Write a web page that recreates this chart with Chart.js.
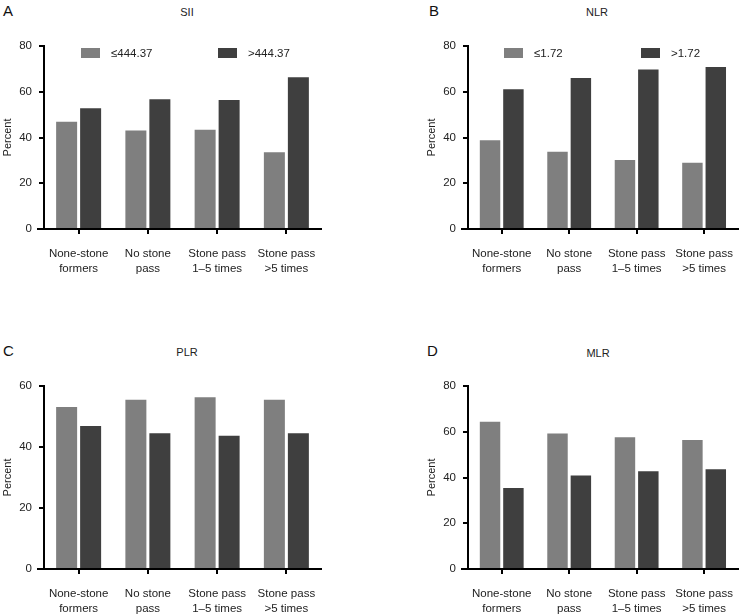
<!DOCTYPE html>
<html>
<head>
<meta charset="utf-8">
<script src="https://cdn.jsdelivr.net/npm/chart.js@4.4.1/dist/chart.umd.min.js"></script>
<style>
  html, body { margin: 0; padding: 0; background: #fff; }
  body { width: 745px; height: 614px; position: relative; overflow: hidden; font-family: "Liberation Sans", Arial, sans-serif; color: #222; }
  .panel { position: absolute; }
  .panel canvas { position: absolute; left: 0; top: 0; }
  .letter { position: absolute; font-size: 15px; line-height: 15px; color: #111; }
  .title { position: absolute; font-size: 11px; line-height: 12px; transform: translateX(-50%); color: #222; white-space: nowrap; }
  .leg { position: absolute; height: 12px; font-size: 11.5px; line-height: 12px; white-space: nowrap; color: #222; }
  .leg .box { position: absolute; left: 0; top: 1px; width: 19px; height: 10px; }
  .leg .txt { position: absolute; left: 30px; top: 0; }
</style>
</head>
<body>
<script>
// ---- data ----
const categories = [["None-stone", "formers"], ["No stone", "pass"], ["Stone pass", "1\u20135 times"], ["Stone pass", ">5 times"]];
const panelLetters = ["A", "B", "C", "D"];
const panelTitles = ["SII", "NLR", "PLR", "MLR"];
const lowLabels = ["\u2264444.37", "\u22641.72", "\u2264120.00", "\u22640.29"];
const highLabels = [">444.37", ">1.72", ">120.00", ">0.29"];
const siiLow = [46.9, 43.1, 43.4, 33.5];
const siiHigh = [52.8, 56.7, 56.4, 66.3];
const nlrLow = [38.8, 33.8, 30.2, 29.0];
const nlrHigh = [61.1, 66.0, 69.7, 70.8];
const plrLow = [53.1, 55.5, 56.3, 55.5];
const plrHigh = [46.9, 44.5, 43.7, 44.5];
const mlrLow = [64.4, 59.2, 57.6, 56.4];
const mlrHigh = [35.4, 40.9, 42.7, 43.6];
const yMax = [80, 80, 60, 80];
const yTickStep = 20;

const lowSeries = [siiLow, nlrLow, plrLow, mlrLow];
const highSeries = [siiHigh, nlrHigh, plrHigh, mlrHigh];

// ---- layout (positions / styles) ----
const LIGHT = "#7f7f7f";
const DARK = "#3f3f3f";
const panels = [
  { x: 0,   y: 0,   w: 372, h: 300, padL: 1,  yw: 43, padR: 51, top: 46, xh: 71, letter: [3, 3],   title: [187, 6],  leg: [81, 47, 218] },
  { x: 372, y: 0,   w: 373, h: 300, padL: 53, yw: 43, padR: 1,  top: 46, xh: 71, letter: [57, 3],  title: [225, 6],  leg: [132, 47, 269] },
  { x: 0,   y: 300, w: 372, h: 314, padL: 1,  yw: 43, padR: 51, top: 86, xh: 45, letter: [3, 43],  title: [187, 46], leg: [81, 376, 218] },
  { x: 372, y: 300, w: 373, h: 314, padL: 53, yw: 43, padR: 1,  top: 86, xh: 45, letter: [55, 43], title: [226, 47], leg: [134, 376, 272] }
];

const axisExtend = {
  id: 'axisExtend',
  afterDraw(chart) {
    const { ctx, chartArea } = chart;
    ctx.save();
    ctx.strokeStyle = '#000';
    ctx.lineWidth = 2;
    ctx.beginPath();
    ctx.moveTo(chartArea.left - 7, chartArea.bottom);
    ctx.lineTo(chartArea.left, chartArea.bottom);
    ctx.stroke();
    ctx.restore();
  }
};

panels.forEach((p, i) => {
  const div = document.createElement('div');
  div.className = 'panel';
  div.style.left = p.x + 'px';
  div.style.top = p.y + 'px';
  div.style.width = p.w + 'px';
  div.style.height = p.h + 'px';
  document.body.appendChild(div);

  const letter = document.createElement('div');
  letter.className = 'letter';
  letter.textContent = panelLetters[i];
  letter.style.left = p.letter[0] + 'px';
  letter.style.top = p.letter[1] + 'px';
  div.appendChild(letter);

  const title = document.createElement('div');
  title.className = 'title';
  title.textContent = panelTitles[i];
  title.style.left = p.title[0] + 'px';
  title.style.top = p.title[1] + 'px';
  div.appendChild(title);

  const canvas = document.createElement('canvas');
  canvas.width = p.w; canvas.height = p.h;
  canvas.style.width = p.w + 'px'; canvas.style.height = p.h + 'px';
  div.appendChild(canvas);

  [[lowLabels[i], LIGHT, p.leg[0]], [highLabels[i], DARK, p.leg[2]]].forEach(([txt, col, lx]) => {
    const lg = document.createElement('div');
    lg.className = 'leg';
    lg.style.left = lx + 'px';
    lg.style.top = p.leg[1] + 'px';
    lg.innerHTML = '<span class="box" style="background:' + col + '"></span><span class="txt"></span>';
    lg.querySelector('.txt').textContent = txt;
    div.appendChild(lg);
  });

  new Chart(canvas.getContext('2d'), {
    type: 'bar',
    data: {
      labels: categories,
      datasets: [
        { label: lowLabels[i], data: lowSeries[i], backgroundColor: LIGHT, borderWidth: 0, categoryPercentage: 0.693, barPercentage: 0.875 },
        { label: highLabels[i], data: highSeries[i], backgroundColor: DARK, borderWidth: 0, categoryPercentage: 0.693, barPercentage: 0.875 }
      ]
    },
    options: {
      responsive: false,
      animation: false,
      events: [],
      layout: { padding: { left: p.padL, right: p.padR, top: p.top, bottom: 0 } },
      plugins: { legend: { display: false }, tooltip: { enabled: false }, title: { display: false } },
      scales: {
        x: {
          afterFit(s) { s.height = p.xh; },
          grid: { display: true, drawOnChartArea: false, drawTicks: true, tickLength: 5, offset: false, color: '#000', lineWidth: 2 },
          border: { display: true, color: '#000', width: 2 },
          ticks: { color: '#222', font: { family: '"Liberation Sans", Arial, sans-serif', size: 11.5, lineHeight: 1.3 }, padding: 12, maxRotation: 0, autoSkip: false }
        },
        y: {
          min: 0, max: yMax[i],
          afterFit(s) { s.width = p.yw; },
          grid: { display: true, drawOnChartArea: false, drawTicks: true, tickLength: 5, color: '#000', lineWidth: 2 },
          border: { display: true, color: '#000', width: 2 },
          ticks: { stepSize: yTickStep, color: '#222', padding: 7, font: { family: '"Liberation Sans", Arial, sans-serif', size: 11.5 } },
          title: { display: true, text: 'Percent', color: '#222', padding: 0, font: { family: '"Liberation Sans", Arial, sans-serif', size: 11 } }
        }
      }
    },
    plugins: [axisExtend]
  });
});
</script>
</body>
</html>
